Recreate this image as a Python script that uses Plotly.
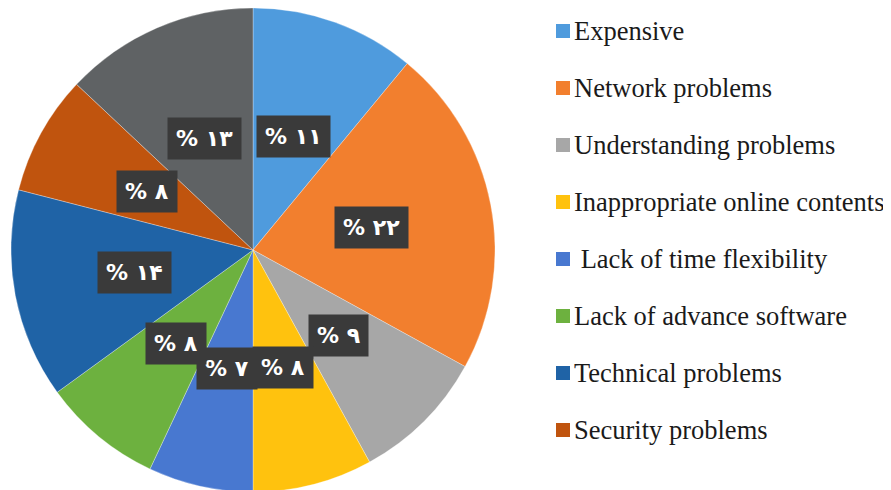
import math
import plotly.graph_objects as go

# Data
categories = ["Expensive", "Network problems", "Understanding problems",
              "Inappropriate online contents", " Lack of time flexibility",
              "Lack of advance software", "Technical problems",
              "Security problems", "Other"]
values = [11, 22, 9, 8, 7, 8, 14, 8, 13]
value_labels = ["% ۱۱", "% ۲۲", "% ۹", "% ۸", "% ۷", "% ۸", "% ۱۴", "% ۸", "% ۱۳"]
colors = ["#4F9BDD", "#F27F2E", "#A7A7A7", "#FFC20E", "#4878D0",
          "#6DB13F", "#1F63A6", "#C0540E", "#5F6264"]
legend_count = 8  # the last slice has no legend entry in the original

W, H = 891, 490
OFF = 8  # the page body adds an 8px margin, shift everything back
pie_x = [3 / W, 487 / W]
pie_y = [6 / H, 1.0]

fig = go.Figure(go.Pie(
    labels=categories,
    values=values,
    marker=dict(colors=colors, line=dict(color="rgba(255,255,255,0.5)", width=0.6)),
    sort=False,
    direction="clockwise",
    rotation=0,
    textinfo="none",
    hoverinfo="label+value",
    showlegend=False,
    domain=dict(x=pie_x, y=pie_y),
))

# label boxes at slice midpoints, half the radius out
cx = (pie_x[0] + pie_x[1]) / 2 * W
cy = (1 - (pie_y[0] + pie_y[1]) / 2) * H
radius = min((pie_x[1] - pie_x[0]) * W, (pie_y[1] - pie_y[0]) * H) / 2
total = sum(values)
cum = 0
for v, txt in zip(values, value_labels):
    ang = 2 * math.pi * (cum + v / 2) / total
    cum += v
    px_ = cx + 0.5 * radius * math.sin(ang)
    py_ = cy - 0.5 * radius * math.cos(ang)
    fig.add_annotation(
        x=px_ / W, y=1 - py_ / H, xref="paper", yref="paper",
        xanchor="center", yanchor="middle",
        text="<b>" + txt + "</b>", showarrow=False,
        font=dict(family="DejaVu Sans", size=22, color="white"),
        bgcolor="#3a3a3a", borderpad=8,
    )

# legend drawn by hand (one entry per named category)
for i in range(legend_count):
    yc = 31 + i * 57.0 - OFF
    fig.add_shape(type="rect", xref="paper", yref="paper",
                  x0=(556 - OFF) / W, x1=(570 - OFF) / W,
                  y0=1 - (yc + 7) / H, y1=1 - (yc - 7) / H,
                  fillcolor=colors[i], line=dict(width=0))
    label = categories[i]
    if label.startswith(" "):
        label = "\u00a0" + label[1:]
    fig.add_annotation(
        x=(575 - OFF - 3) / W, y=1 - yc / H, xref="paper", yref="paper",
        text=label, showarrow=False, xanchor="left", yanchor="middle",
        font=dict(family="Liberation Serif", size=26.5, color="#1a1a1a"),
    )

fig.update_layout(
    width=W, height=H,
    margin=dict(l=0, r=0, t=0, b=0),
    paper_bgcolor="white",
    plot_bgcolor="white",
)

fig.write_html("out.html")
